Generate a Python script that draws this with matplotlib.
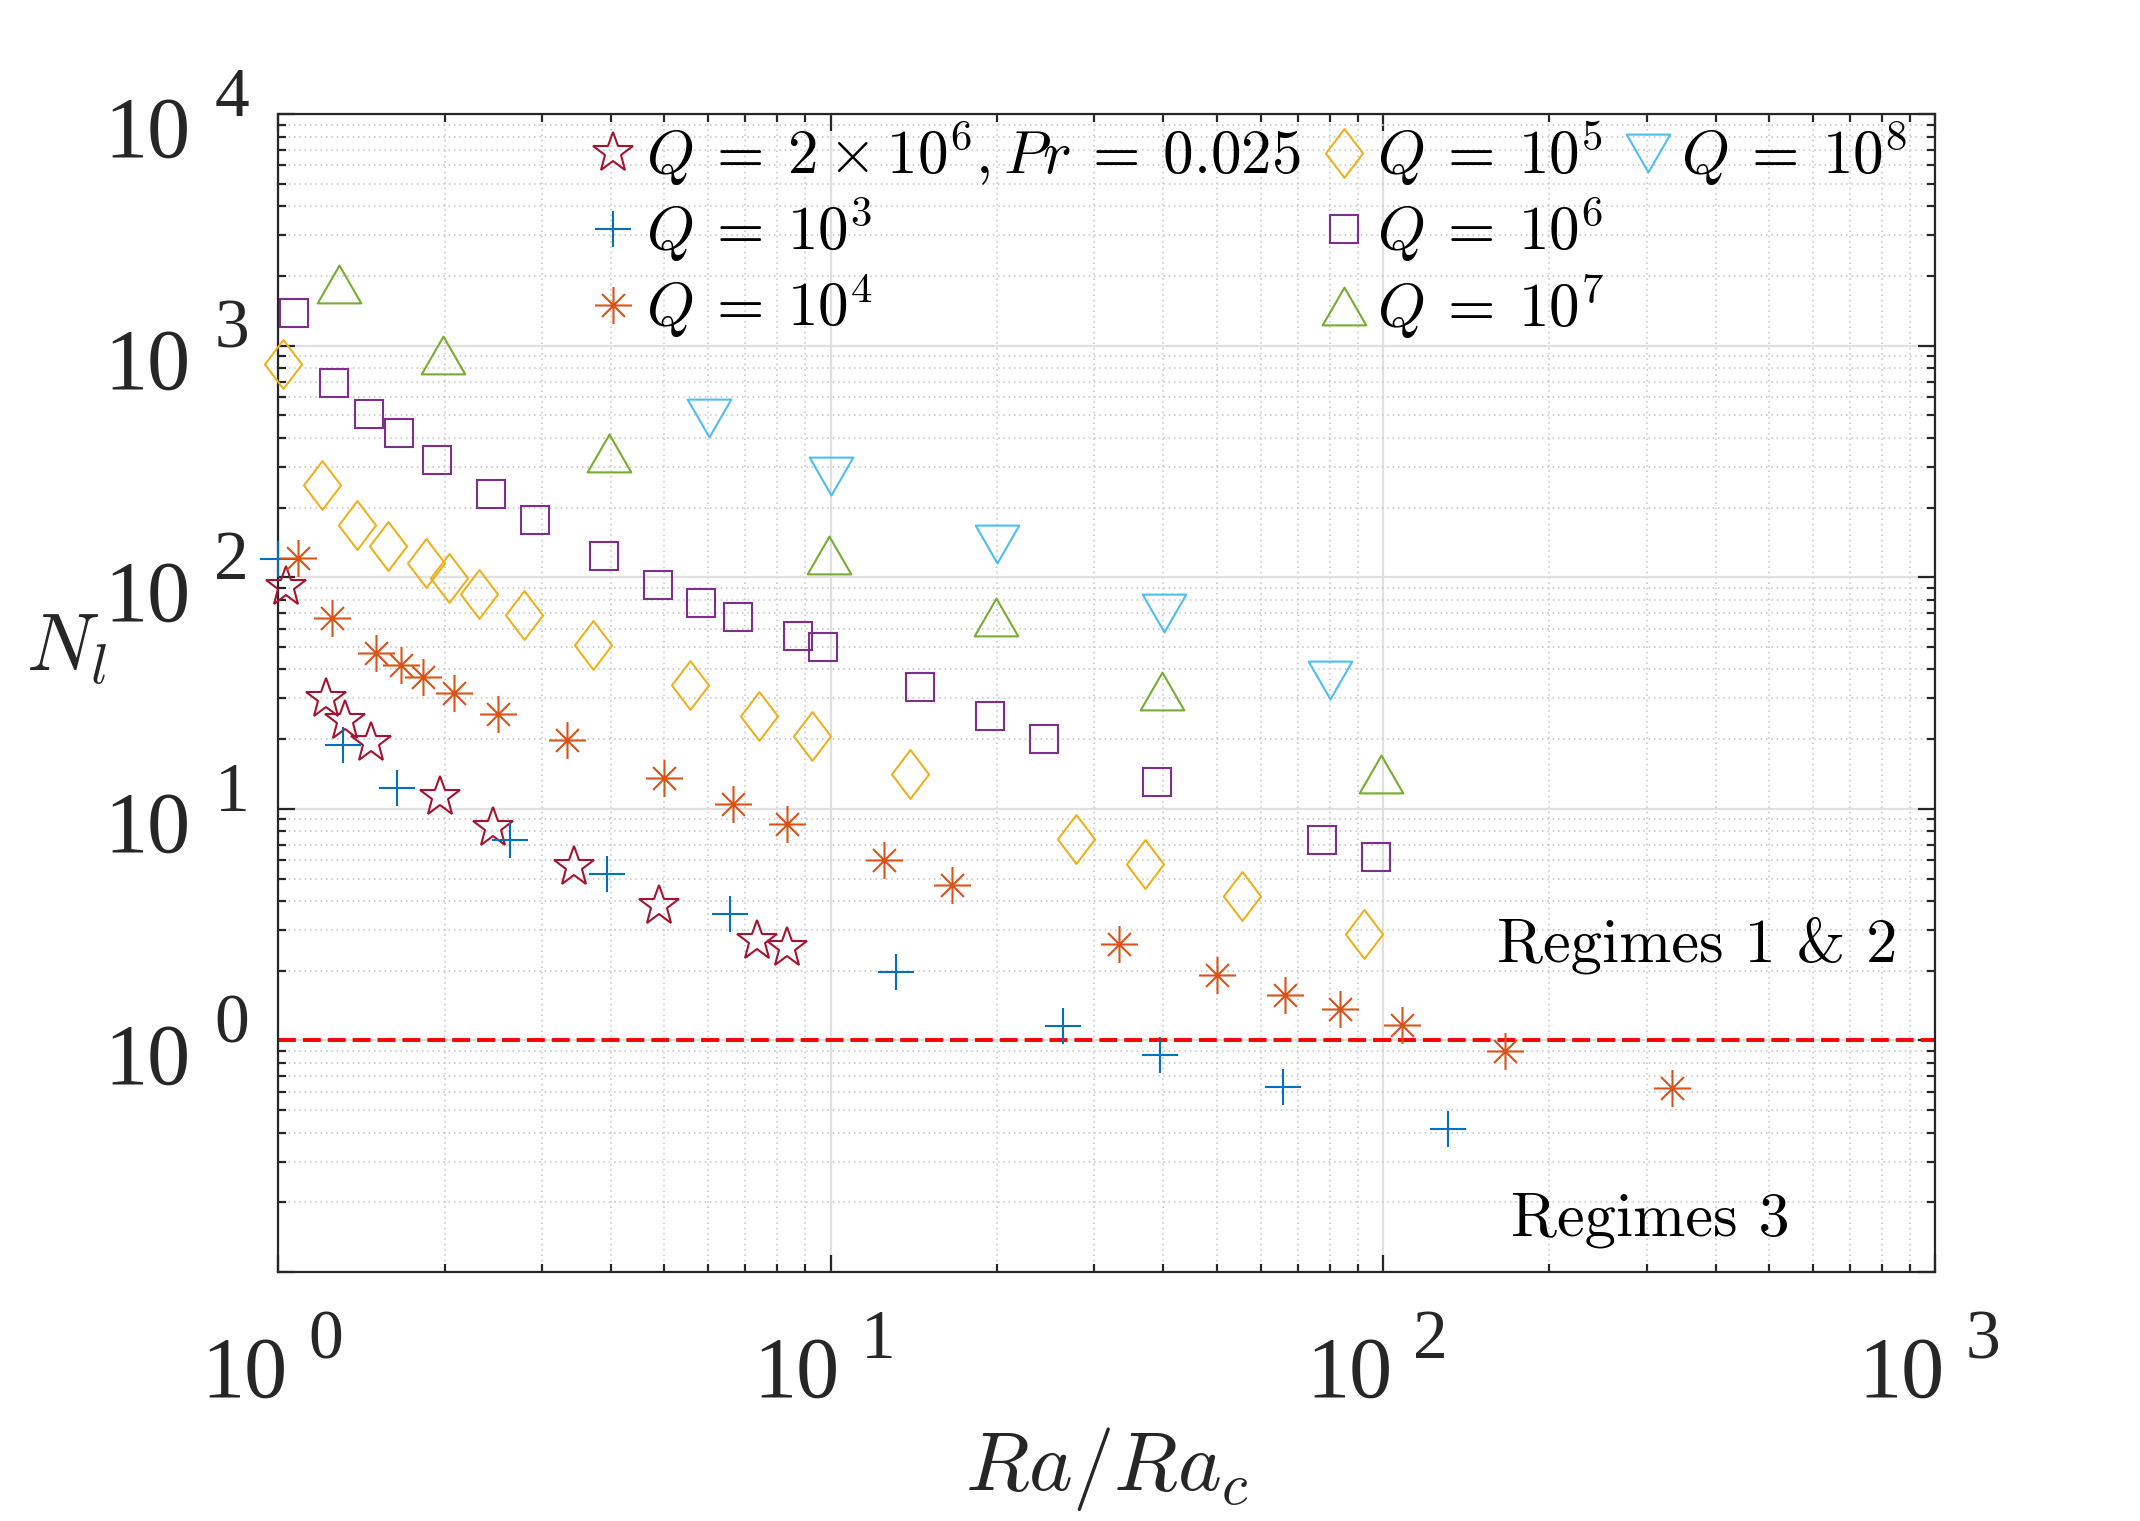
import numpy as np
import matplotlib
matplotlib.use("Agg")
import matplotlib.pyplot as plt
from matplotlib.path import Path
from matplotlib.lines import Line2D
from matplotlib.ticker import LogLocator, NullFormatter
from matplotlib.transforms import ScaledTranslation

plt.rcParams['mathtext.fontset'] = 'cm'

# values (Ra/Ra_c, N_l)
ra_pr = [1.03, 1.22, 1.32, 1.47, 1.96, 2.45, 3.43, 4.89, 7.35, 8.32]
nl_pr = [91, 29.7, 23.9, 19.2, 11.3, 8.3, 5.6, 3.8, 2.7, 2.5]

ra_q3 = [1.0, 1.31, 1.64, 2.63, 3.93, 6.56, 13.1, 26.3, 39.4, 65.8, 131]
nl_q3 = [120, 18.8, 12.3, 7.3, 5.25, 3.5, 1.98, 1.15, 0.865, 0.63, 0.414]

ra_q4 = [1.084, 1.25, 1.50, 1.67, 1.83, 2.08, 2.50, 3.33, 5.0, 6.66, 8.32,
         12.5, 16.6, 33.3, 50, 66.4, 83.4, 108, 166, 333]
nl_q4 = [121, 66.5, 47.1, 41.7, 37.1, 31.6, 25.7, 19.8, 13.6, 10.5, 8.6,
         6.03, 4.71, 2.61, 1.92, 1.57, 1.37, 1.17, 0.90, 0.625]

ra_q5 = [1.018, 1.20, 1.39, 1.58, 1.85, 2.04, 2.31, 2.78, 3.71, 5.55, 7.41,
         9.26, 13.9, 27.8, 37.0, 55.5, 92.4]
nl_q5 = [832, 249, 168, 137, 115, 99, 84.5, 69, 51.2, 34.4, 25.1,
         20.7, 14.1, 7.4, 5.8, 4.19, 2.89]

ra_q6 = [1.066, 1.26, 1.46, 1.65, 1.94, 2.43, 2.91, 3.88, 4.86, 5.82, 6.80,
         8.74, 9.70, 14.5, 19.4, 24.3, 38.9, 77.5, 97.1]
nl_q6 = [1377, 691, 506, 419, 320, 229, 176, 123, 92.6, 77.2, 67.4,
         56.0, 50.0, 33.6, 25.2, 20.0, 13.0, 7.32, 6.17]

ra_q7 = [1.29, 1.99, 3.97, 9.94, 19.9, 39.8, 99.1]
nl_q7 = [1845, 912, 343, 124.5, 67.2, 32.2, 14.1]

ra_q8 = [6.01, 10.03, 20.0, 40.1, 80.0]
nl_q8 = [488, 273, 139, 69.9, 36.0]

labels = [r'$Q \:=\: 2 \times 10^6, Pr \:=\: 0.025$', r'$Q \:=\: 10^3$',
          r'$Q \:=\: 10^4$', r'$Q \:=\: 10^5$', r'$Q \:=\: 10^6$',
          r'$Q \:=\: 10^7$', r'$Q \:=\: 10^8$']

x_tick_exps = [0, 1, 2, 3]
y_tick_exps = [0, 1, 2, 3, 4]

# MATLAB-like marker shapes
tri_up = Path([(0, 0.866), (-1, -0.866), (1, -0.866), (0, 0.866)], closed=True)
tri_dn = Path([(0, -0.866), (-1, 0.866), (1, 0.866), (0, -0.866)], closed=True)
diamond = Path([(0, 1), (0.76, 0), (0, -1), (-0.76, 0), (0, 1)], closed=True)
a = 0.62
asterisk = Path([(-1, 0), (1, 0), (0, -1), (0, 1), (-a, -a), (a, a), (-a, a), (a, -a)],
                [Path.MOVETO, Path.LINETO] * 4)

series = [
    (ra_pr, nl_pr, '*', 15.2, '#A2142F'),
    (ra_q3, nl_q3, '+', 13.3, '#0072BD'),
    (ra_q4, nl_q4, asterisk, 13.3, '#D95319'),
    (ra_q5, nl_q5, diamond, 17.6, '#EDB120'),
    (ra_q6, nl_q6, 's', 10.0, '#7E2F8E'),
    (ra_q7, nl_q7, tri_up, 15.7, '#77AC30'),
    (ra_q8, nl_q8, tri_dn, 15.7, '#4DBEEE'),
]

DPI = 200
fig = plt.figure(figsize=(2140 / DPI, 1521 / DPI), dpi=DPI)
ax = fig.add_axes([0.1301, 0.1637, 0.9044 - 0.1301, 0.925 - 0.1637])

handles = []
for (x, y, m, ms, c), lab in zip(series, labels):
    h, = ax.plot(x, y, linestyle='none', marker=m, ms=ms, mfc='none', mec=c,
                 mew=0.75, clip_on=False, label=lab, zorder=3)
    handles.append(h)

ax.axhline(1, color='r', ls=(0, (4.6, 1.8)), lw=1.4, zorder=2)

ax.set_xscale('log')
ax.set_yscale('log')
ax.set_xlim(1, 1000)
ax.set_ylim(0.1, 1e4)

ax.xaxis.set_major_locator(LogLocator(base=10, numticks=10))
ax.yaxis.set_major_locator(LogLocator(base=10, numticks=10))
ax.xaxis.set_minor_locator(LogLocator(base=10, subs=np.arange(2, 10), numticks=20))
ax.yaxis.set_minor_locator(LogLocator(base=10, subs=np.arange(2, 10), numticks=20))
ax.xaxis.set_major_formatter(NullFormatter())
ax.yaxis.set_major_formatter(NullFormatter())
ax.xaxis.set_minor_formatter(NullFormatter())
ax.yaxis.set_minor_formatter(NullFormatter())

ax.set_axisbelow(True)
ax.grid(True, which='major', color='#e0e0e0', linestyle='-', linewidth=0.8)
ax.grid(True, which='minor', color='#cccccc', linestyle=(0, (1, 2.2)), linewidth=0.6)
ax.tick_params(which='major', direction='in', top=True, right=True,
               length=6, width=0.8, color='#262626')
ax.tick_params(which='minor', direction='in', top=True, right=True,
               length=3, width=0.8, color='#262626')
for sp in ax.spines.values():
    sp.set_color('#262626')
    sp.set_linewidth(0.8)

# tick labels drawn as "10" plus a raised exponent, MATLAB style
tick_font = 'Liberation Serif'
def off(dx, dy):
    return ScaledTranslation(dx / DPI, dy / DPI, fig.dpi_scale_trans)

for e in x_tick_exps:
    ax.text(10.0 ** e, 0, '10', transform=ax.get_xaxis_transform() + off(9, -125),
            ha='right', va='baseline', fontsize=31, family=tick_font, color='#262626')
    ax.text(10.0 ** e, 0, str(e), transform=ax.get_xaxis_transform() + off(30, -86),
            ha='left', va='baseline', fontsize=25, family=tick_font, color='#262626')
for e in y_tick_exps:
    ax.text(0, 10.0 ** e, '10', transform=ax.get_yaxis_transform() + off(-88, -43),
            ha='right', va='baseline', fontsize=31, family=tick_font, color='#262626')
    ax.text(0, 10.0 ** e, str(e), transform=ax.get_yaxis_transform() + off(-64, -2),
            ha='left', va='baseline', fontsize=25, family=tick_font, color='#262626')

ax.set_xlabel(r'$Ra/Ra_c$', fontsize=30, color='#262626', va='baseline')
ax.xaxis.set_label_coords(0.5, -218 / 1158)
ax.set_ylabel(r'$N_l$', fontsize=29, color='#262626', rotation=0, ha='left', va='baseline')
ax.yaxis.set_label_coords(-252 / 1657, (1272 - 670) / 1158)

ax.text(161, 2.2, 'Regimes 1 & 2', family='cmr10', fontsize=22.5, ha='left', va='baseline')
ax.text(170.6, 0.144, 'Regimes 3', family='cmr10', fontsize=22.5, ha='left', va='baseline')

blank = Line2D([], [], linestyle='none', marker='none')
leg_h = handles + [blank, blank]
leg_l = labels + ['', '']
ax.legend(leg_h, leg_l, ncol=3, loc='upper left', bbox_to_anchor=(0.2748, 0.922),
          bbox_transform=fig.transFigure, frameon=False, fontsize=22,
          handlelength=0.8, handletextpad=0.15, columnspacing=0.3,
          labelspacing=0.12, borderpad=0, borderaxespad=0)

fig.savefig('out.png', dpi=DPI)
